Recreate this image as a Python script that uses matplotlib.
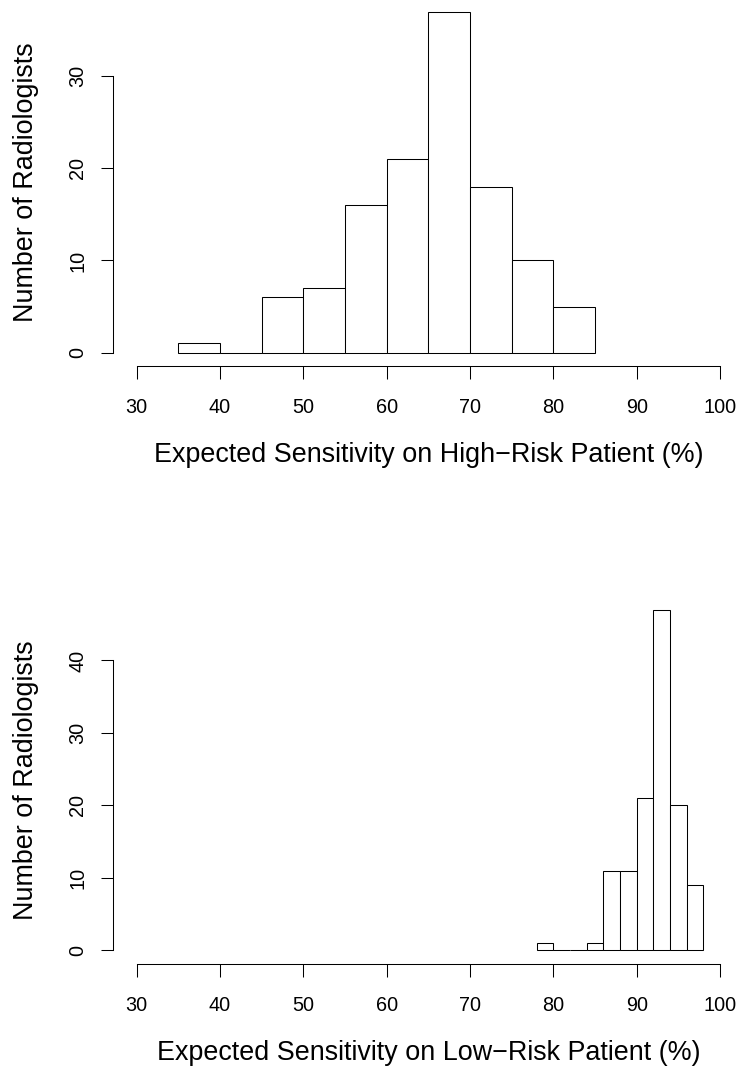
import numpy as np
import matplotlib
matplotlib.use("Agg")
import matplotlib.pyplot as plt

# histogram counts
high_edges = [35, 40, 45, 50, 55, 60, 65, 70, 75, 80, 85]
high_counts = [1, 0, 6, 7, 16, 21, 37, 18, 10, 5]
low_edges = [78, 80, 82, 84, 86, 88, 90, 92, 94, 96, 98]
low_counts = [1, 0, 0, 1, 11, 11, 21, 47, 20, 9]

x_ticks = [30, 40, 50, 60, 70, 80, 90, 100]
high_yticks = [0, 10, 20, 30]
low_yticks = [0, 10, 20, 30, 40]
high_label = "Expected Sensitivity on High\u2212Risk Patient (%)"
low_label = "Expected Sensitivity on Low\u2212Risk Patient (%)"
y_label = "Number of Radiologists"

plt.rcParams['font.family'] = ['Liberation Sans', 'DejaVu Sans']
lw = 0.75
W, H = 740, 1070

fig = plt.figure(figsize=(7.4, 10.7), dpi=100)


def r_hist(rect, edges, counts, yticks, xlabel):
    ax = fig.add_axes(rect)
    edges = np.array(edges, dtype=float)
    ax.bar(edges[:-1], counts, width=np.diff(edges), align='edge',
           color='white', edgecolor='black', linewidth=lw)
    xr = x_ticks[-1] - x_ticks[0]
    ax.set_xlim(x_ticks[0] - 0.04 * xr, x_ticks[-1] + 0.04 * xr)
    top = max(counts)
    ax.set_ylim(-0.04 * top, top * 1.04)
    for s in ['top', 'right']:
        ax.spines[s].set_visible(False)
    ax.spines['left'].set_bounds(yticks[0], yticks[-1])
    ax.spines['bottom'].set_bounds(x_ticks[0], x_ticks[-1])
    for s in ['left', 'bottom']:
        ax.spines[s].set_linewidth(lw)
    ax.set_xticks(x_ticks)
    ax.set_yticks(yticks)
    ax.tick_params(length=9, width=lw, labelsize=14.3, colors='black')
    ax.tick_params(axis='x', pad=13.7)
    ax.tick_params(axis='y', pad=9.7)
    for t in ax.get_yticklabels():
        t.set_rotation(90)
        t.set_va('center')
        t.set_ha('right')
    ax.set_xlabel(xlabel, fontsize=19.4)
    ax.xaxis.set_label_coords(0.5, -75.5 / (rect[3] * H))
    ax.set_ylabel(y_label, fontsize=19.4)
    ax.yaxis.set_label_coords((38.7 - 113.3) / (rect[2] * W), 0.5)
    return ax


r_hist([113.3 / W, 1 - 366.3 / H, 630 / W, 368.4 / H],
       high_edges, high_counts, high_yticks, high_label)
r_hist([113.3 / W, 1 - 964.1 / H, 630 / W, 368.0 / H],
       low_edges, low_counts, low_yticks, low_label)

fig.savefig("out.png", dpi=100, facecolor='white')
